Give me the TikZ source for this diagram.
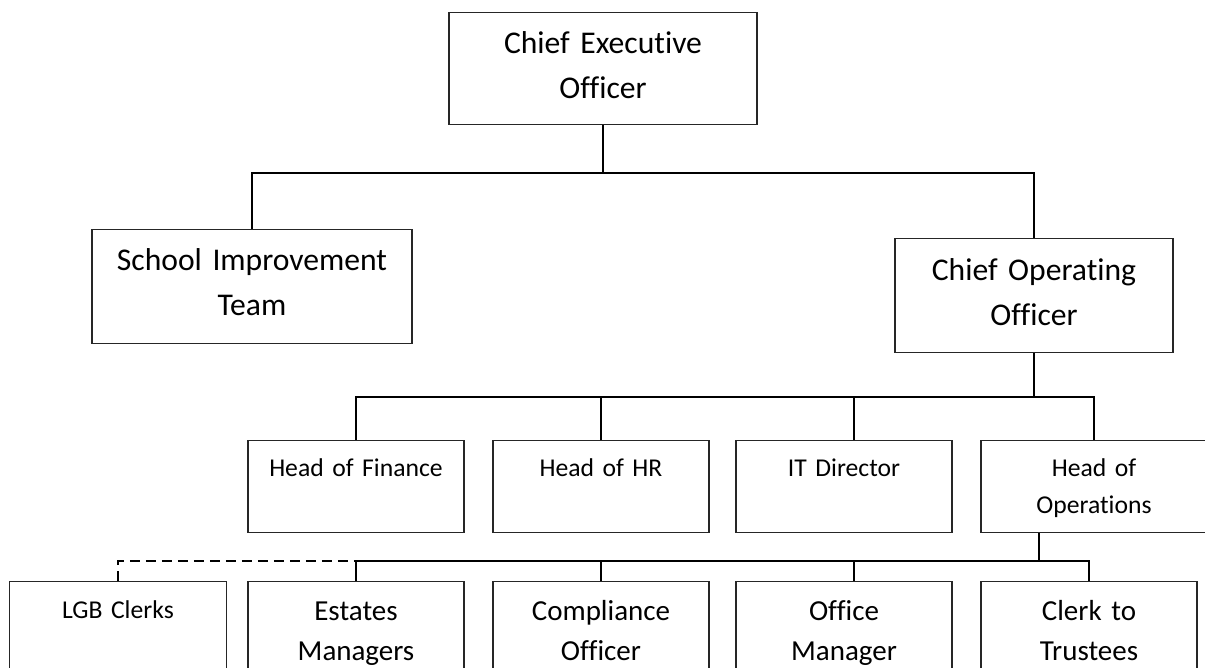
\documentclass[tikz,border=0pt]{standalone}
\usepackage{fontspec}
\setmainfont{Carlito}[Ligatures={NoCommon,NoContextual}]
\usetikzlibrary{calc}
\begin{document}
\begin{tikzpicture}
  [x=0.02cm, y=-0.02cm,
  box/.style={draw=black!85, line width=0.8pt, anchor=north, align=center, inner xsep=0pt, inner ysep=0pt},
  big/.style={box, font=\fontsize{18}{25.6}\selectfont},
  mid/.style={box, font=\fontsize{16.5}{22.8}\selectfont},
  small/.style={box, font=\fontsize{14.6}{21}\selectfont},
  link/.style={line width=1.1pt},
  dashlink/.style={link, dash pattern=on 5.7pt off 3.4pt}]

  \useasboundingbox (0,0) rectangle (1205,668);

  % top of the tree
  \node (ceo) [big, text width=6.16cm, text height=0.82cm, text depth=1.42cm] at (603,12) {Chief Executive\\Officer};
  \node (sit) [big, text width=6.4cm, text height=0.82cm, text depth=1.46cm] at (252,229) {School Improvement\\Team};
  \node (coo) [big, text width=5.56cm, text height=0.84cm, text depth=1.44cm] at (1034,238) {Chief Operating\\Officer};

  % heads
  \node (fin) [small, text width=4.32cm, text height=0.72cm, text depth=1.12cm] at (356,440) {Head of Finance};
  \node (hr)  [small, text width=4.32cm, text height=0.72cm, text depth=1.12cm] at (601,440) {Head of HR};
  \node (it)  [small, text width=4.32cm, text height=0.72cm, text depth=1.12cm] at (844,440) {IT Director};
  \node (ops) [small, text width=4.52cm, text height=0.72cm, text depth=1.12cm] at (1094,440) {Head of\\Operations};

  % under operations
  \node (lgb)    [small, text width=4.34cm, text height=0.74cm, text depth=2cm] at (118,581) {LGB Clerks};
  \node (est)    [mid, text width=4.32cm, text height=0.78cm, text depth=2cm] at (356,581) {Estates\\Managers};
  \node (comp)   [mid, text width=4.32cm, text height=0.78cm, text depth=2cm] at (601,581) {Compliance\\Officer};
  \node (office) [mid, text width=4.32cm, text height=0.78cm, text depth=2cm] at (844,581) {Office\\Manager};
  \node (clerk)  [mid, text width=4.32cm, text height=0.78cm, text depth=2cm] at (1089,581) {Clerk to\\Trustees};

  \coordinate (bus1) at (0,173);
  \coordinate (bus2) at (0,397);
  \coordinate (bus3) at (0,561);
  \coordinate (itjoin) at ($(it.north)+(10,0)$);
  \coordinate (opsjoin) at ($(ops.south)+(-55,0)$);
  \coordinate (officejoin) at ($(office.north)+(10,0)$);

  \draw [link] (ceo.south) -- (ceo.south |- bus1);
  \draw [link] (sit.north) -- (sit.north |- bus1) -- (coo.north |- bus1) -- (coo.north);

  \draw [link] (coo.south) -- (coo.south |- bus2);
  \draw [link] (fin.north) -- (fin.north |- bus2) -- (ops.north |- bus2) -- (ops.north);
  \draw [link] (hr.north) -- (hr.north |- bus2);
  \draw [link] (itjoin) -- (itjoin |- bus2);

  \draw [link] (opsjoin) -- (opsjoin |- bus3);
  \draw [link] (est.north) -- (est.north |- bus3) -- (clerk.north |- bus3) -- (clerk.north);
  \draw [link] (comp.north) -- (comp.north |- bus3);
  \draw [link] (officejoin) -- (officejoin |- bus3);
  \draw [dashlink] (lgb.north) -- (lgb.north |- bus3) -- (est.north |- bus3);

\end{tikzpicture}
\end{document}
